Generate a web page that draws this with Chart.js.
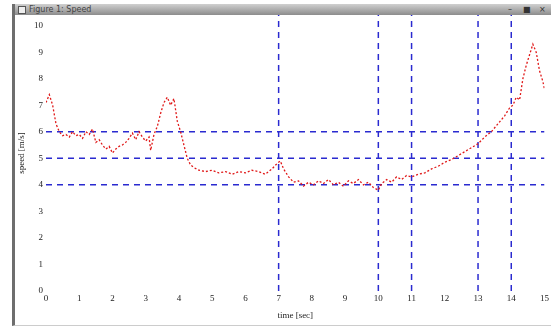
<!DOCTYPE html>
<html lang="en">
<head>
    <meta charset="UTF-8">
    <title>Speed</title>
    <script src="https://cdn.jsdelivr.net/npm/chart.js"></script>
    <style>
        body { margin: 0; background: #fff; width: 551px; height: 331px; overflow: hidden; position: relative; }
        #win { position: absolute; left: 12px; top: 4px; right: 0; bottom: 5px; border-left: 3px solid #6e6e6e; border-bottom: 1px solid #ccc; background: #fff; }
        #bar { height: 11px; background: linear-gradient(#d0d0d0, #8c8c8c); font: 8px "DejaVu Sans", sans-serif; color: #444; line-height: 11px; padding-left: 14px; position: relative; }
        #bar .ico { position: absolute; left: 3px; top: 2px; width: 6px; height: 6px; border: 1px solid #555; background: #eee; }
        #bar .btn { position: absolute; top: 0; font-size: 8px; color: #333; }
        #chartBox { position: absolute; left: 0; top: 0; width: 551px; height: 331px; }
    </style>
</head>
<body>
    <div id="win">
        <div id="bar"><span class="ico"></span>Figure 1: Speed
            <span class="btn" style="left:493px">&#8211;</span>
            <span class="btn" style="left:508px">&#9632;</span>
            <span class="btn" style="left:524px">&#215;</span>
        </div>
    </div>
    <div id="chartBox"><canvas id="speedChart" width="551" height="331"></canvas></div>

    <script>
        // readings
        const timeSec = [0.0, 0.1, 0.2, 0.3, 0.4, 0.5, 0.6, 0.7, 0.8, 0.9, 1.0, 1.1, 1.2, 1.3, 1.4, 1.5, 1.6, 1.7, 1.8, 1.9,
            2.0, 2.1, 2.2, 2.3, 2.4, 2.5, 2.6, 2.7, 2.8, 2.9, 3.0, 3.1, 3.15, 3.25, 3.35, 3.45, 3.55, 3.65, 3.75, 3.85,
            3.95, 4.05, 4.15, 4.25, 4.35, 4.45, 4.6, 4.8, 5.0, 5.2, 5.4, 5.6, 5.8, 6.0, 6.2, 6.4, 6.6, 6.8, 6.95, 7.05,
            7.15, 7.3, 7.45, 7.6, 7.75, 7.9, 8.05, 8.2, 8.35, 8.5, 8.65, 8.8, 8.95, 9.1, 9.25, 9.4, 9.55, 9.7, 9.85, 10.0,
            10.1, 10.25, 10.4, 10.55, 10.7, 10.85, 11.0, 11.2, 11.4, 11.6, 11.8, 12.0, 12.2, 12.4, 12.6, 12.8, 13.0, 13.2, 13.4, 13.6,
            13.8, 13.95, 14.05, 14.15, 14.25, 14.35, 14.45, 14.55, 14.65, 14.75, 14.85, 14.95, 15.0];
        const speed = [7.1, 7.4, 7.0, 6.3, 6.0, 5.85, 5.9, 5.8, 6.0, 5.85, 5.9, 5.75, 6.0, 5.9, 6.1, 5.6, 5.7, 5.5, 5.35, 5.45,
            5.2, 5.35, 5.45, 5.5, 5.6, 5.75, 5.95, 5.7, 6.0, 5.8, 5.65, 5.8, 5.3, 5.9, 6.2, 6.7, 7.1, 7.3, 7.0, 7.25,
            6.4, 6.0, 5.5, 5.0, 4.75, 4.65, 4.55, 4.5, 4.55, 4.45, 4.5, 4.4, 4.5, 4.45, 4.55, 4.5, 4.4, 4.6, 4.8, 4.9,
            4.6, 4.3, 4.1, 4.15, 3.95, 4.1, 4.0, 4.15, 4.05, 4.2, 4.0, 4.1, 3.95, 4.15, 4.05, 4.2, 4.0, 4.1, 3.9, 3.8,
            4.05, 4.2, 4.1, 4.3, 4.2, 4.35, 4.3, 4.4, 4.45, 4.6, 4.7, 4.85, 4.95, 5.1, 5.25, 5.4, 5.55, 5.8, 6.0, 6.3,
            6.6, 6.9, 7.0, 7.3, 7.2, 8.0, 8.5, 8.9, 9.3, 9.0, 8.3, 7.9, 7.6];

        // dashed marker lines
        const markTimes = [7, 10, 11, 13, 14];
        const markLevels = [6, 5, 4];

        const xMin = 0, xMax = 15;
        const yMin = 0, yMax = 10.4;

        const markStyle = { borderColor: '#2a2ad0', borderWidth: 1.5, borderDash: [6, 5], pointRadius: 0, showLine: true, fill: false };

        const datasets = [{
            label: 'speed',
            data: timeSec.map((t, i) => ({ x: t, y: speed[i] })),
            borderColor: '#e01818',
            borderWidth: 1.3,
            borderDash: [2, 2],
            pointRadius: 0,
            showLine: true,
            fill: false
        }];
        markLevels.forEach(v => datasets.push(Object.assign({ data: [{ x: xMin, y: v }, { x: xMax, y: v }] }, markStyle)));
        markTimes.forEach(t => datasets.push(Object.assign({ data: [{ x: t, y: yMin }, { x: t, y: yMax }] }, markStyle)));

        const tickFont = { family: '"Liberation Serif", serif', size: 9 };

        new Chart(document.getElementById('speedChart'), {
            type: 'scatter',
            data: { datasets: datasets },
            options: {
                responsive: false,
                animation: false,
                layout: { padding: { left: 16, right: 6, top: 15, bottom: 10 } },
                plugins: { legend: { display: false }, tooltip: { enabled: false } },
                scales: {
                    x: {
                        min: xMin, max: xMax,
                        grid: { display: false, drawTicks: false, tickLength: 0 }, border: { display: false },
                        ticks: { stepSize: 1, font: tickFont, color: '#222', padding: 2, maxRotation: 0 },
                        title: { display: true, text: 'time [sec]', font: tickFont, color: '#222', padding: 0 },
                        afterFit: s => { s.height = 30; }
                    },
                    y: {
                        min: yMin, max: yMax,
                        grid: { display: false, drawTicks: false, tickLength: 0 }, border: { display: false },
                        ticks: { stepSize: 1, font: tickFont, color: '#222', padding: 3 },
                        afterBuildTicks: s => { s.ticks = s.ticks.filter(t => Number.isInteger(t.value)); },
                        title: { display: true, text: 'speed [m/s]', font: tickFont, color: '#222', padding: 0 },
                        afterFit: s => { s.width = 30; }
                    }
                }
            }
        });
    </script>
</body>
</html>
